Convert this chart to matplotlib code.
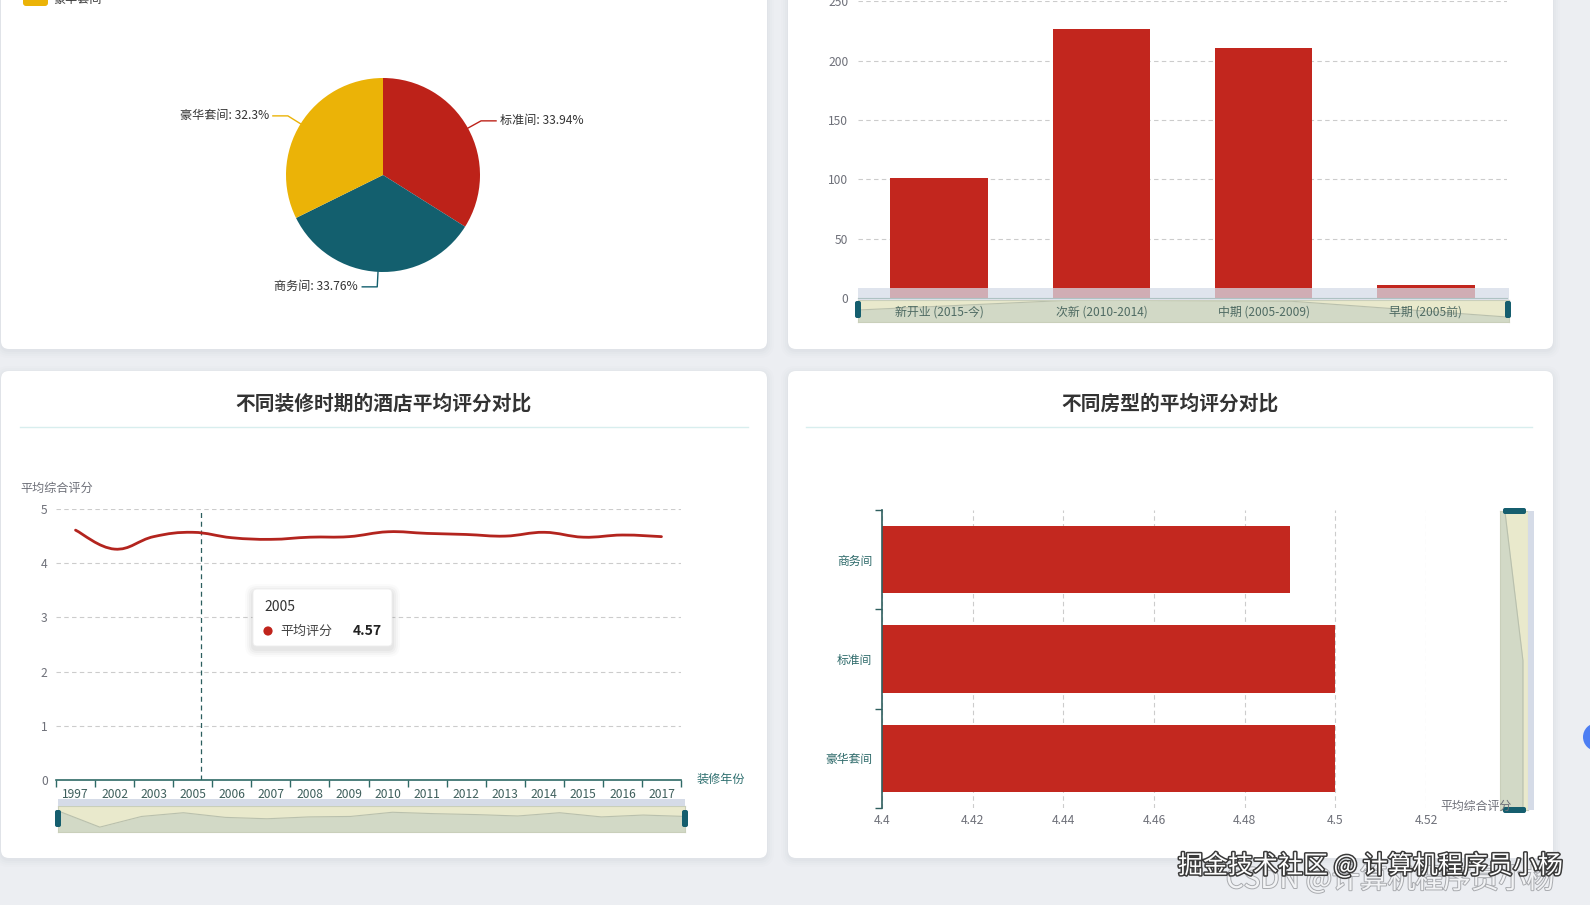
import numpy as np
import matplotlib
matplotlib.use('Agg')
import matplotlib.pyplot as plt
from matplotlib.patches import FancyBboxPatch, Rectangle, Circle, PathPatch
from matplotlib.path import Path
import matplotlib.patheffects as pe
import matplotlib.transforms as mtransforms
from matplotlib.ticker import FixedLocator

plt.rcParams['font.family'] = ['Noto Sans CJK SC', 'DejaVu Sans']
plt.rcParams['axes.unicode_minus'] = False

# ---------------- data ----------------
room_types = ['标准间', '商务间', '豪华套间']
room_share = [33.94, 33.76, 32.3]
room_colors = ['#bd2219', '#135f6e', '#ebb307']

age_groups = ['新开业 (2015-今)', '次新 (2010-2014)', '中期 (2005-2009)', '早期 (2005前)']
age_counts = [101, 227, 211, 11]

reno_years = ['1997', '2002', '2003', '2005', '2006', '2007', '2008', '2009',
              '2010', '2011', '2012', '2013', '2014', '2015', '2016', '2017']
reno_scores = [4.61, 4.26, 4.49, 4.57, 4.47, 4.44, 4.48, 4.49,
               4.58, 4.55, 4.53, 4.50, 4.57, 4.48, 4.52, 4.49]

room_cats = ['豪华套间', '标准间', '商务间']
room_scores = [4.50, 4.50, 4.49]

bar_ticks = [0, 50, 100, 150, 200, 250]
score_ticks = [0, 1, 2, 3, 4, 5]
hbar_ticks = [4.40, 4.42, 4.44, 4.46, 4.48, 4.50, 4.52]

# ---------------- layout helpers ----------------
W, H = 1590, 905
fig = plt.figure(figsize=(W / 100, H / 100), dpi=100)
fig.patch.set_facecolor('#eceef2')


def px_axes(x0, y0, x1, y1, z):
    ax = fig.add_axes([x0 / W, 1 - y1 / H, (x1 - x0) / W, (y1 - y0) / H])
    ax.set_zorder(z)
    ax.set_facecolor('none')
    return ax


bg = px_axes(0, 0, W, H, 0)
bg.set_xlim(0, W); bg.set_ylim(H, 0); bg.axis('off')

ovt = px_axes(0, 0, W, H, 9)
ovt.set_xlim(0, W); ovt.set_ylim(H, 0); ovt.axis('off')


def card(x0, y0, x1, y1):
    for k, a in [(7, 0.02), (5, 0.025), (3, 0.03), (1, 0.04)]:
        bg.add_patch(FancyBboxPatch((x0 - k, y0 - k + 2), x1 - x0 + 2 * k, y1 - y0 + 2 * k,
                                    boxstyle=f'round,pad=0,rounding_size={8 + k}',
                                    fc='#8f98a8', ec='none', alpha=a))
    bg.add_patch(FancyBboxPatch((x0, y0), x1 - x0, y1 - y0,
                                boxstyle='round,pad=0,rounding_size=8', fc='white', ec='none'))


card(1, -30, 767, 349)
card(788, -30, 1553, 349)
card(1, 371, 767, 858)
card(788, 371, 1553, 858)

GRAY = '#6e7079'
TEAL_AX = '#2f6a66'
TEAL_TXT = '#2f6b6b'
HANDLE = '#155e6e'
BEIGE = '#e9e9cc'
SHADOW = '#d2d9c6'
BAND = '#d5dbe7'
GRID = dict(color='#cccccc', linestyle=(0, (4, 3)), linewidth=0.8)


def handle(x0, y0, x1, y1):
    ovt.add_patch(FancyBboxPatch((x0, y0), x1 - x0, y1 - y0,
                                 boxstyle='round,pad=0,rounding_size=2',
                                 fc=HANDLE, ec='none', zorder=15))


# ---------------- pie (top-left) ----------------
R = 97.0
cx, cy = 383, 175
pa = px_axes(cx - 250, cy - 150, cx + 250, cy + 150, 1)
wedges, _ = pa.pie(room_share, colors=room_colors, startangle=90, counterclock=False,
                   radius=1, wedgeprops=dict(linewidth=0))
pa.set_aspect('auto')
pa.set_xlim(-250 / R, 250 / R)
pa.set_ylim(-150 / R, 150 / R)
pa.axis('off')
L1, L2, GAP = 15 / R, 15 / R, 4 / R
for w, name, val, col in zip(wedges, room_types, room_share, room_colors):
    mid = np.deg2rad((w.theta1 + w.theta2) / 2)
    c, s = np.cos(mid), np.sin(mid)
    sign = 1 if c >= 0 else -1
    p0 = np.array([c, s])
    p1 = p0 * (1 + L1)
    p2 = p1 + np.array([sign * L2, 0])
    pa.plot([p0[0], p1[0], p2[0]], [p0[1], p1[1], p2[1]], color=col, lw=1, clip_on=False)
    pa.text(p2[0] + sign * GAP, p2[1], f'{name}: {val:g}%', ha='left' if sign > 0 else 'right',
            va='center', fontsize=8.7, color='#333333', clip_on=False)

# partial legend at the top edge
bg.add_patch(FancyBboxPatch((23, -8), 25, 14, boxstyle='round,pad=0,rounding_size=3',
                            fc=room_colors[2], ec='none'))
bg.text(53, -1, room_types[2], fontsize=8.7, color='#333333', va='center', ha='left')

# ---------------- bar chart (top-right) ----------------
axb = px_axes(858, 1.5, 1507, 298, 1)
axb.bar(range(len(age_counts)), age_counts, width=0.6, color='#c2261e')
axb.set_xlim(-0.5, len(age_counts) - 0.5)
axb.set_ylim(bar_ticks[0], bar_ticks[-1])
axb.yaxis.set_major_locator(FixedLocator(bar_ticks))
axb.set_yticklabels([str(t) for t in bar_ticks])
axb.tick_params(axis='y', length=0, pad=7, labelsize=8.7, labelcolor=GRAY)
axb.set_xticks([])
axb.grid(axis='y', **GRID)
axb.set_axisbelow(True)
for sp in ['top', 'left', 'right']:
    axb.spines[sp].set_visible(False)
axb.spines['bottom'].set_color('#3b7a5a')

# slider for bar chart
ovt.add_patch(Rectangle((858, 288), 651, 12, fc=BAND, ec='none', alpha=0.75, zorder=5))
sb = px_axes(858, 300, 1509, 322, 6)
sb.set_facecolor(BEIGE)
xs_b = np.arange(len(age_counts))
lo_b = -0.22 * max(age_counts)
sb.fill_between(xs_b, lo_b, age_counts, color=SHADOW, lw=0)
sb.plot(xs_b, age_counts, color='#b9c0ad', lw=0.8)
sb.set_xlim(0, len(age_counts) - 1)
sb.set_ylim(lo_b, max(age_counts))
sb.set_xticks([]); sb.set_yticks([])
for sp in sb.spines.values():
    sp.set_color('#c9cfba'); sp.set_linewidth(0.8)
handle(855, 301, 861, 318)
handle(1505, 301, 1511, 318)
trans_b = mtransforms.blended_transform_factory(axb.transData, ovt.transData)
for i, lab in enumerate(age_groups):
    ovt.text(i, 312, lab, transform=trans_b, ha='center', va='center', fontsize=8.6,
             color='#4f6b63', zorder=20)

# ---------------- line chart (bottom-left) ----------------
ovt.text(383, 404, '不同装修时期的酒店平均评分对比', ha='center', va='center', fontsize=14.2,
         fontweight='bold', color='#333333')
ovt.plot([20, 748], [427, 427], color='#d8eeee', lw=1)
ovt.text(20, 488, '平均综合评分', ha='left', va='center', fontsize=8.7, color=GRAY)


def smooth_path(xs, ys, k=0.2):
    pts = np.column_stack([xs, ys]).astype(float)
    n = len(pts)
    verts = [pts[0]]
    codes = [Path.MOVETO]
    for i in range(n - 1):
        p0 = pts[i - 1] if i > 0 else pts[i]
        p1 = pts[i]
        p2 = pts[i + 1]
        p3 = pts[i + 2] if i + 2 < n else pts[i + 1]
        verts += [p1 + (p2 - p0) * k, p2 - (p3 - p1) * k, p2]
        codes += [Path.CURVE4] * 3
    return Path(verts, codes)


axl = px_axes(56, 509, 681, 780, 1)
xl = np.arange(len(reno_years))
axl.add_patch(PathPatch(smooth_path(xl, reno_scores), fc='none', ec='#b3241e', lw=2.0,
                        capstyle='round', zorder=3))
axl.set_xlim(-0.5, len(reno_years) - 0.5)
axl.set_ylim(score_ticks[0], score_ticks[-1])
axl.yaxis.set_major_locator(FixedLocator(score_ticks))
axl.set_yticklabels([str(t) for t in score_ticks])
axl.tick_params(axis='y', length=0, pad=6, labelsize=8.7, labelcolor=GRAY)
axl.set_xticks(xl)
axl.set_xticklabels(reno_years)
axl.set_xticks(np.arange(len(reno_years) + 1) - 0.5, minor=True)
axl.tick_params(axis='x', which='major', length=0, pad=5.5, labelsize=8.7, labelcolor='#3e5f5c')
axl.tick_params(axis='x', which='minor', length=5, width=1, color=TEAL_AX)
axl.grid(axis='y', **GRID)
axl.set_axisbelow(True)
for sp in ['top', 'left', 'right']:
    axl.spines[sp].set_visible(False)
axl.spines['bottom'].set_color(TEAL_AX)
axl.spines['bottom'].set_linewidth(1.2)
ti = reno_years.index('2005')
axl.axvline(ti + 0.2, color='#2b5e5e', lw=0.9, linestyle=(0, (4, 3)), zorder=2)
ovt.text(697, 779, '装修年份', ha='left', va='center', fontsize=8.7, color='#2f7070')

# tooltip
for k, a in [(8, 0.02), (6, 0.03), (4, 0.04), (2, 0.05)]:
    ovt.add_patch(FancyBboxPatch((253 - k, 589 - k + 3), 139 + 2 * k, 57 + 2 * k,
                                 boxstyle=f'round,pad=0,rounding_size={4 + k}',
                                 fc='#555555', ec='none', alpha=a, zorder=10))
ovt.add_patch(FancyBboxPatch((253, 589), 139, 57, boxstyle='round,pad=0,rounding_size=4',
                             fc='white', ec='#eeeeee', lw=0.6, zorder=11))
ovt.text(264, 607, reno_years[ti], ha='left', va='center', fontsize=10, color='#333333', zorder=12)
ovt.add_patch(Circle((268, 631), 4.6, fc='#c0241c', ec='none', zorder=12))
ovt.text(280, 631, '平均评分', ha='left', va='center', fontsize=9.4, color='#444444', zorder=12)
ovt.text(382, 631, f'{reno_scores[ti]:.2f}', ha='right', va='center', fontsize=10,
         fontweight='bold', color='#222222', zorder=12)

# slider for line chart
ovt.add_patch(Rectangle((58, 799), 627, 7, fc=BAND, ec='none', zorder=5))
sl = px_axes(58, 806, 685, 832, 6)
sl.set_facecolor(BEIGE)
rng = max(reno_scores) - min(reno_scores)
lo_l = min(reno_scores) - 0.3 * rng
hi_l = max(reno_scores) + 0.3 * rng
sl.fill_between(xl, lo_l, reno_scores, color=SHADOW, lw=0)
sl.plot(xl, reno_scores, color='#b9c0ad', lw=0.8)
sl.set_xlim(0, len(reno_years) - 1)
sl.set_ylim(lo_l, hi_l)
sl.set_xticks([]); sl.set_yticks([])
for sp in sl.spines.values():
    sp.set_color('#c9cfba'); sp.set_linewidth(0.8)
handle(55, 810, 61, 827)
handle(682, 810, 688, 827)

# ---------------- horizontal bar (bottom-right) ----------------
ovt.text(1170, 404, '不同房型的平均评分对比', ha='center', va='center', fontsize=14.2,
         fontweight='bold', color='#333333')
ovt.plot([806, 1532], [427, 427], color='#d8eeee', lw=1)

axh = px_axes(882, 510, 1426, 808, 1)
yh = np.arange(len(room_cats))
axh.barh(yh, room_scores, height=0.68, color='#c3281f')
axh.set_xlim(hbar_ticks[0], hbar_ticks[-1])
axh.set_ylim(-0.5, len(room_cats) - 0.5)
axh.xaxis.set_major_locator(FixedLocator(hbar_ticks))
axh.set_xticklabels([f'{t:g}' for t in hbar_ticks])
axh.tick_params(axis='x', length=0, pad=4, labelsize=8.7, labelcolor=GRAY)
axh.set_yticks(yh)
axh.set_yticklabels(room_cats)
axh.set_yticks(np.arange(len(room_cats) + 1) - 0.5, minor=True)
axh.tick_params(axis='y', which='major', length=0, pad=7, labelsize=8.5, labelcolor=TEAL_TXT)
axh.tick_params(axis='y', which='minor', length=5, width=1, color='#2f5f5f')
axh.grid(axis='x', **GRID)
axh.set_axisbelow(True)
for sp in ['top', 'bottom', 'right']:
    axh.spines[sp].set_visible(False)
axh.spines['left'].set_color('#2f5f5f')
axh.spines['left'].set_linewidth(1.2)

# vertical slider
ovt.add_patch(Rectangle((1528, 511), 6, 299, fc=BAND, ec='none', zorder=5))
sv = px_axes(1500, 511, 1528, 810, 6)
sv.set_facecolor(BEIGE)
rng_h = max(room_scores) - min(room_scores)
lo_h = min(room_scores) - 0.27 * rng_h
hi_h = max(room_scores) + 0.28 * rng_h
sv.fill_betweenx(yh, lo_h, room_scores, color=SHADOW, lw=0)
sv.plot(room_scores, yh, color='#b9c0ad', lw=0.8)
sv.set_xlim(lo_h, hi_h)
sv.set_ylim(0, len(room_cats) - 1)
sv.set_xticks([]); sv.set_yticks([])
for sp in sv.spines.values():
    sp.set_color('#c9cfba'); sp.set_linewidth(0.8)
handle(1503, 508, 1526, 514)
handle(1503, 807, 1526, 813)
ovt.text(1440, 806, '平均综合评分', ha='left', va='center', fontsize=8.6, color=GRAY, zorder=16)

# ---------------- decorations ----------------
ovt.add_patch(Circle((1597, 737), 14, fc='#4d7ef3', ec='none', zorder=14))
ovt.text(1226, 880, 'CSDN @计算机程序员小杨', ha='left', va='center', fontsize=20,
         color='#f2f3f5', zorder=17,
         path_effects=[pe.withStroke(linewidth=1.4, foreground='#a9abaf')])
ovt.text(1178, 866, '掘金技术社区 @ 计算机程序员小杨', ha='left', va='center', fontsize=18,
         color='white', zorder=18,
         path_effects=[pe.withStroke(linewidth=2.2, foreground='#3a3a3a')])

fig.savefig('out.png', dpi=100, facecolor=fig.get_facecolor())
